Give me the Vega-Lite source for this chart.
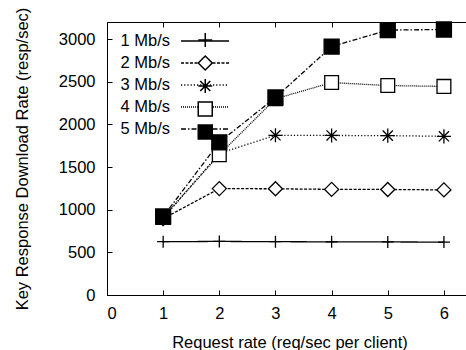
{
  "$schema": "https://vega.github.io/schema/vega-lite/v6.json",
  "autosize": {"type": "none"},
  "padding": {"left": 107, "top": 22, "right": 0, "bottom": 55},
  "width": 365,
  "height": 273,
  "background": "white",
  "config": {
    "font": "Liberation Sans",
    "view": {"stroke": "black", "strokeWidth": 1},
    "axis": {"grid": false, "domain": false, "tickColor": "black", "tickSize": -5, "tickWidth": 1, "labelColor": "black", "titleColor": "black", "labelFontSize": 16.5, "titleFontSize": 16.5, "titleFontWeight": "normal", "labelFont": "Liberation Sans", "titleFont": "Liberation Sans"},
    "legend": {"labelFont": "Liberation Sans", "labelFontSize": 16.5, "labelColor": "black"}
  },
  "data": {"values": [
    {"rate": 1, "resp": 625, "series": "1 Mb/s"},
    {"rate": 2, "resp": 628, "series": "1 Mb/s"},
    {"rate": 3, "resp": 625, "series": "1 Mb/s"},
    {"rate": 4, "resp": 623, "series": "1 Mb/s"},
    {"rate": 5, "resp": 622, "series": "1 Mb/s"},
    {"rate": 6, "resp": 620, "series": "1 Mb/s"},
    {"rate": 1, "resp": 895, "series": "2 Mb/s"},
    {"rate": 2, "resp": 1247, "series": "2 Mb/s"},
    {"rate": 3, "resp": 1245, "series": "2 Mb/s"},
    {"rate": 4, "resp": 1238, "series": "2 Mb/s"},
    {"rate": 5, "resp": 1237, "series": "2 Mb/s"},
    {"rate": 6, "resp": 1232, "series": "2 Mb/s"},
    {"rate": 1, "resp": 900, "series": "3 Mb/s"},
    {"rate": 2, "resp": 1660, "series": "3 Mb/s"},
    {"rate": 3, "resp": 1872, "series": "3 Mb/s"},
    {"rate": 4, "resp": 1870, "series": "3 Mb/s"},
    {"rate": 5, "resp": 1868, "series": "3 Mb/s"},
    {"rate": 6, "resp": 1860, "series": "3 Mb/s"},
    {"rate": 1, "resp": 910, "series": "4 Mb/s"},
    {"rate": 2, "resp": 1645, "series": "4 Mb/s"},
    {"rate": 3, "resp": 2300, "series": "4 Mb/s"},
    {"rate": 4, "resp": 2490, "series": "4 Mb/s"},
    {"rate": 5, "resp": 2455, "series": "4 Mb/s"},
    {"rate": 6, "resp": 2445, "series": "4 Mb/s"},
    {"rate": 1, "resp": 920, "series": "5 Mb/s"},
    {"rate": 2, "resp": 1790, "series": "5 Mb/s"},
    {"rate": 3, "resp": 2315, "series": "5 Mb/s"},
    {"rate": 4, "resp": 2912, "series": "5 Mb/s"},
    {"rate": 5, "resp": 3105, "series": "5 Mb/s"},
    {"rate": 6, "resp": 3112, "series": "5 Mb/s"}
  ]},
  "resolve": {
    "axis": {"x": "independent"},
    "legend": {"strokeDash": "independent", "shape": "independent", "fill": "independent"}
  },
  "layer": [
    {
      "mark": {"type": "line", "color": "black", "strokeWidth": 1.3},
      "encoding": {
        "x": {"field": "rate", "type": "quantitative", "scale": {"domain": [0, 6.5], "nice": false},
              "axis": {"orient": "bottom", "values": [0, 1, 2, 3, 4, 5, 6], "title": "Request rate (req/sec per client)", "labelPadding": 15, "titlePadding": 13}},
        "y": {"field": "resp", "type": "quantitative", "scale": {"domain": [0, 3200], "nice": false},
              "axis": {"values": [0, 500, 1000, 1500, 2000, 2500, 3000], "format": "d", "title": "Key Response Download Rate (resp/sec)", "labelPadding": 17, "titlePadding": 28}},
        "strokeDash": {"field": "series", "type": "nominal",
          "scale": {"domain": ["1 Mb/s", "2 Mb/s", "3 Mb/s", "4 Mb/s", "5 Mb/s"], "range": [[1, 0], [3, 1.5], [1.2, 2], [1, 1], [5, 2, 1.5, 2]]},
          "legend": {"orient": "none", "legendX": 85, "legendY": 6, "title": null, "symbolType": "M-2,0H2", "symbolSize": 576, "labelAlign": "right", "labelOffset": -48, "rowPadding": 0, "padding": 0,
            "encode": {"symbols": {"update": {"stroke": {"value": "black"}, "strokeWidth": {"value": 1.3}, "opacity": {"value": 1}}}}}}
      }
    },
    {
      "mark": {"type": "point", "filled": false, "stroke": "black", "strokeWidth": 1.3, "opacity": 1},
      "encoding": {
        "x": {"field": "rate", "type": "quantitative", "scale": {"domain": [0, 6.5], "nice": false},
              "axis": {"orient": "top", "values": [0, 1, 2, 3, 4, 5, 6], "labels": false, "title": null}},
        "y": {"field": "resp", "type": "quantitative"},
        "shape": {"field": "series", "type": "nominal",
          "scale": {"domain": ["1 Mb/s", "2 Mb/s", "3 Mb/s", "4 Mb/s", "5 Mb/s"], "range": ["M-1,0H1M0,-1V1", "diamond", "M-1,0H1M0,-1V1M-0.72,-0.72L0.72,0.72M-0.72,0.72L0.72,-0.72", "square", "square"]},
          "legend": {"orient": "none", "legendX": 90, "legendY": 6.9, "title": null, "symbolSize": 196, "labelOpacity": 0, "clipHeight": 22.2, "rowPadding": 0, "padding": 0,
            "encode": {"symbols": {"update": {"stroke": {"value": "black"}, "strokeWidth": {"value": 1.3}, "opacity": {"value": 1}}}}}},
        "fill": {"field": "series", "type": "nominal",
          "scale": {"domain": ["1 Mb/s", "2 Mb/s", "3 Mb/s", "4 Mb/s", "5 Mb/s"], "range": ["white", "white", "white", "white", "black"]},
          "legend": {"orient": "none", "legendX": 90, "legendY": 6.9, "title": null, "symbolSize": 196, "labelOpacity": 0, "clipHeight": 22.2, "rowPadding": 0, "padding": 0,
            "encode": {"symbols": {"update": {"stroke": {"value": "black"}, "strokeWidth": {"value": 1.3}, "opacity": {"value": 1}}}}}},
        "size": {"field": "series", "type": "nominal", "legend": null,
          "scale": {"type": "ordinal", "domain": ["1 Mb/s", "2 Mb/s", "3 Mb/s", "4 Mb/s", "5 Mb/s"], "range": [144, 196, 200, 190, 225]}}
      }
    }
  ]
}
